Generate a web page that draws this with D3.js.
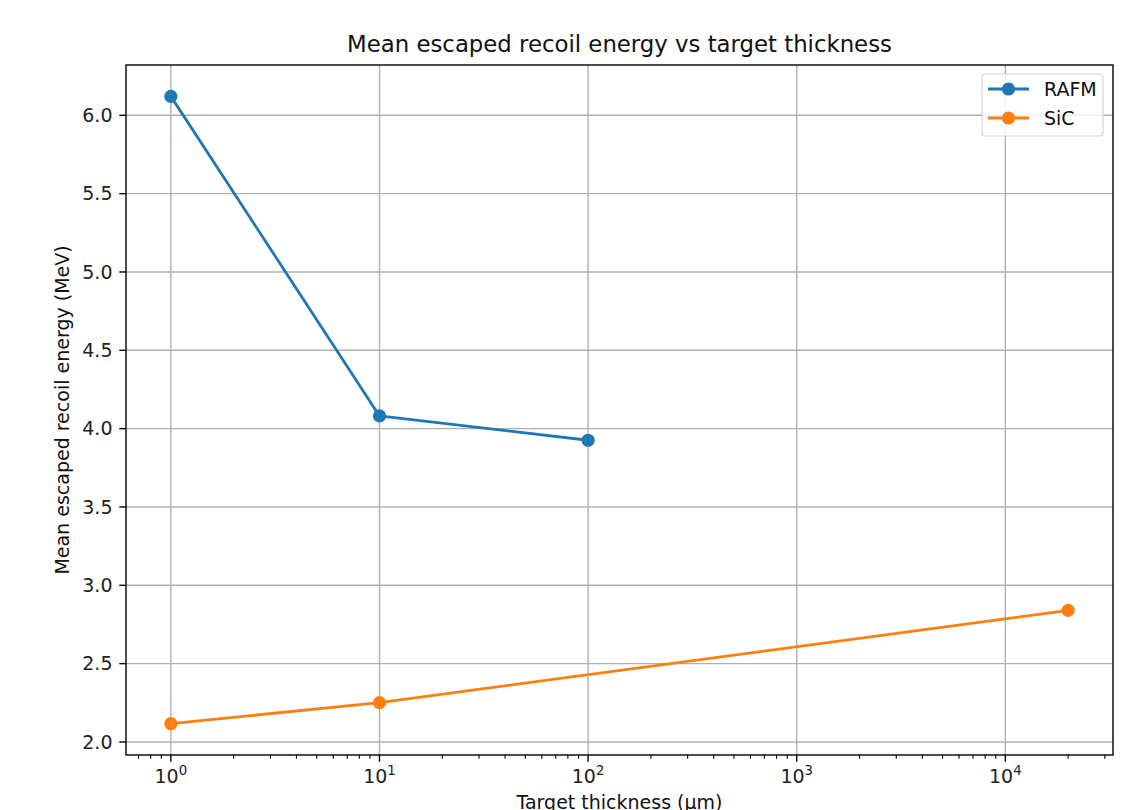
<!DOCTYPE html>
<html>
<head>
<meta charset="utf-8">
<script src="https://cdn.jsdelivr.net/npm/d3@7"></script>
<style>
  body { margin: 0; background: #fff; }
  svg { font-family: "DejaVu Sans", sans-serif; }
</style>
</head>
<body>
<svg id="chart" width="1140" height="810"></svg>
<script>
// Thickness values (µm) and mean escaped recoil energies (MeV)
const rafmThickness = [1, 10, 100];
const rafmEnergy = [6.121, 4.081, 3.926];
const sicThickness = [1, 10, 20000];
const sicEnergy = [2.117, 2.251, 2.840];
const yTicks = [2.0, 2.5, 3.0, 3.5, 4.0, 4.5, 5.0, 5.5, 6.0];
const xMajorTicks = [1, 10, 100, 1000, 10000];

const series = [
  { name: "RAFM", color: "#1f77b4", x: rafmThickness, y: rafmEnergy },
  { name: "SiC", color: "#ff7f0e", x: sicThickness, y: sicEnergy }
];

const svg = d3.select("#chart");
const plotL = 126, plotR = 1113, plotT = 65, plotB = 755;
const markerR = 6.6;

// Log x axis with 5% padding in log space, linear y with 5% padding
const allX = rafmThickness.concat(sicThickness);
const allY = rafmEnergy.concat(sicEnergy);
const lx0 = Math.log10(d3.min(allX)), lx1 = Math.log10(d3.max(allX));
const padX = (lx1 - lx0) * 0.05;
const x = d3.scaleLog().domain([Math.pow(10, lx0 - padX), Math.pow(10, lx1 + padX)]).range([plotL, plotR]);
const y0 = d3.min(allY), y1 = d3.max(allY);
const padY = (y1 - y0) * 0.05;
const y = d3.scaleLinear().domain([y0 - padY, y1 + padY]).range([plotB, plotT]);

// Grid lines
const grid = svg.append("g").attr("stroke", "#b0b0b0").attr("stroke-width", 1.4);
xMajorTicks.forEach(t => grid.append("line").attr("x1", x(t)).attr("x2", x(t)).attr("y1", plotT).attr("y2", plotB));
yTicks.forEach(t => grid.append("line").attr("x1", plotL).attr("x2", plotR).attr("y1", y(t)).attr("y2", y(t)));

// Minor x ticks
const [dmin, dmax] = x.domain();
const minor = [];
for (let e = -1; e <= 5; e++) {
  for (let m = 2; m <= 9; m++) {
    const v = m * Math.pow(10, e);
    if (v >= dmin && v <= dmax) minor.push(v);
  }
}
const axes = svg.append("g").attr("stroke", "#000");
minor.forEach(t => axes.append("line").attr("x1", x(t)).attr("x2", x(t)).attr("y1", plotB).attr("y2", plotB + 3.8).attr("stroke-width", 1.1));
xMajorTicks.forEach(t => axes.append("line").attr("x1", x(t)).attr("x2", x(t)).attr("y1", plotB).attr("y2", plotB + 6.7).attr("stroke-width", 1.4));
yTicks.forEach(t => axes.append("line").attr("x1", plotL - 6.7).attr("x2", plotL).attr("y1", y(t)).attr("y2", y(t)).attr("stroke-width", 1.4));

// Lines and markers
const line = d3.line().x(d => x(d[0])).y(d => y(d[1]));
series.forEach(s => {
  const pts = s.x.map((v, i) => [v, s.y[i]]);
  svg.append("path").datum(pts).attr("d", line).attr("fill", "none")
    .attr("stroke", s.color).attr("stroke-width", 2.8).attr("stroke-linejoin", "round");
  svg.append("g").selectAll("circle").data(pts).join("circle")
    .attr("cx", d => x(d[0])).attr("cy", d => y(d[1])).attr("r", markerR).attr("fill", s.color);
});

// Spines
svg.append("rect").attr("x", plotL).attr("y", plotT).attr("width", plotR - plotL).attr("height", plotB - plotT)
  .attr("fill", "none").attr("stroke", "#000").attr("stroke-width", 1.4);

// Tick labels
const fs = 19;
yTicks.forEach(t => svg.append("text").attr("x", plotL - 13.5).attr("y", y(t)).attr("dy", "0.36em")
  .attr("text-anchor", "end").attr("font-size", fs).attr("fill", "#222").text(t.toFixed(1)));
xMajorTicks.forEach(t => {
  const txt = svg.append("text").attr("x", x(t)).attr("y", plotB + 28).attr("text-anchor", "middle")
    .attr("font-size", fs).attr("fill", "#222");
  txt.append("tspan").text("10");
  txt.append("tspan").attr("dy", -8).attr("font-size", fs * 0.7).text(Math.round(Math.log10(t)));
});

// Title and axis labels
svg.append("text").attr("x", (plotL + plotR) / 2).attr("y", 52).attr("text-anchor", "middle")
  .attr("font-size", 22.8).attr("fill", "#111").text("Mean escaped recoil energy vs target thickness");
svg.append("text").attr("x", (plotL + plotR) / 2).attr("y", 809).attr("text-anchor", "middle")
  .attr("font-size", fs).attr("fill", "#111").text("Target thickness (µm)");
svg.append("text").attr("transform", `translate(69,${(plotT + plotB) / 2}) rotate(-90)`).attr("text-anchor", "middle")
  .attr("font-size", fs).attr("fill", "#111").text("Mean escaped recoil energy (MeV)");

// Legend
const lg = svg.append("g");
lg.append("rect").attr("x", 982).attr("y", 74).attr("width", 121).attr("height", 62).attr("rx", 3)
  .attr("fill", "#fff").attr("fill-opacity", 0.8).attr("stroke", "#d6d6d6").attr("stroke-width", 1.2);
series.forEach((s, i) => {
  const ly = 89 + i * 29;
  lg.append("line").attr("x1", 988).attr("x2", 1029).attr("y1", ly).attr("y2", ly).attr("stroke", s.color).attr("stroke-width", 2.8);
  lg.append("circle").attr("cx", 1008.5).attr("cy", ly).attr("r", markerR).attr("fill", s.color);
  lg.append("text").attr("x", 1044).attr("y", ly).attr("dy", "0.36em").attr("font-size", fs).attr("fill", "#111").text(s.name);
});
</script>
</body>
</html>
